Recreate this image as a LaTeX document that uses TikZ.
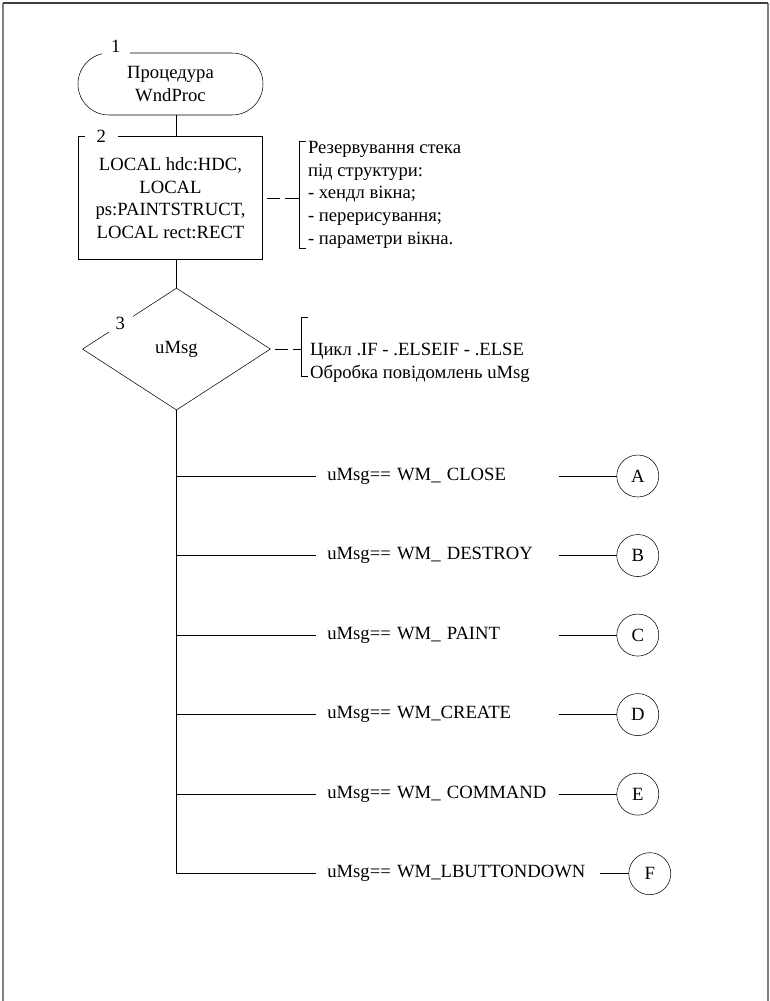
\documentclass[tikz,border=0pt]{standalone}
\usepackage{fontspec}
\setmainfont{Liberation Serif}
\usetikzlibrary{positioning,shapes.geometric}

\begin{document}
\begin{tikzpicture}[
    x=0.75pt, y=-0.75pt,
    font=\fontsize{14pt}{17pt}\selectfont,
    term/.style={draw, rounded corners=23.25pt, minimum width=138.75pt,
                 minimum height=46.5pt, align=center},
    proc/.style={draw, minimum width=138pt, minimum height=92.25pt, align=center},
    cond/.style={draw, diamond, minimum width=141pt, minimum height=91.5pt, inner sep=0pt},
    note/.style={align=left, inner xsep=6pt, inner ysep=0pt},
    num/.style={fill=white, inner xsep=7pt, inner ysep=1pt},
    msg/.style={text width=165pt, inner xsep=8.25pt, inner ysep=2pt,
                minimum height=20pt, align=left},
    msgwide/.style={msg, text width=195.75pt},
    conn/.style={draw, circle, minimum size=31.5pt, inner sep=0pt},
    line/.style={line width=0.75pt},
    dashline/.style={line width=0.75pt, dash pattern=on 10pt off 4pt, dash phase=11pt},
    pageframe/.style={draw=gray, line width=1.5pt}
]
\useasboundingbox[fill=white] (0,0) rectangle (770,1001);
\draw[pageframe] (3,1001) -- (3,3);
\draw[pageframe] (768,3) -- (768,1001);
\draw[pageframe, draw=black!75] (3,3) -- (768,3);

\node[term] (wndproc) at (170.5,84) {Процедура\\WndProc};
\node[proc, below=15.75pt of wndproc] (locals)
     {LOCAL hdc:HDC,\\LOCAL\\ps:PAINTSTRUCT,\\LOCAL rect:RECT};
\node[cond, below=21pt of locals, xshift=4.5pt] (umsg) {uMsg};

\node[num] (n1) at ([xshift=28.5pt,yshift=4.5pt]wndproc.north west) {1};
\node[num, inner xsep=9pt] (n2) at ([xshift=17.25pt]locals.north west) {2};
\node[num, minimum width=19.5pt, minimum height=12.75pt, inner sep=0pt] (n3)
     at ([xshift=28.5pt,yshift=19.5pt]umsg.west) {3};

\node[note, right=27.75pt of locals, yshift=2.5pt] (stacknote)
     {Резервування стека\\під структури:\\- хендл вікна;\\- перерисування;\\- параметри вікна.};
\node[note, right=23.25pt of umsg, yshift=-10.5pt] (loopnote)
     {Цикл .IF - .ELSEIF - .ELSE\\Обробка повідомлень uMsg};

\node[msg, anchor=west]           (caseA) at (316,476) {uMsg== WM\_ CLOSE};
\node[msg, below=39.25pt of caseA] (caseB) {uMsg== WM\_ DESTROY};
\node[msg, below=39.25pt of caseB] (caseC) {uMsg== WM\_ PAINT};
\node[msg, below=39.25pt of caseC] (caseD) {uMsg== WM\_CREATE};
\node[msg, below=39.25pt of caseD] (caseE) {uMsg== WM\_ COMMAND};
\node[msgwide, below=39.25pt of caseE.south west, anchor=north west] (caseF)
     {uMsg== WM\_LBUTTONDOWN};

\node[conn, right=43.5pt of caseA]  (conA) {A};
\node[conn, right=43.5pt of caseB]  (conB) {B};
\node[conn, right=43.5pt of caseC]  (conC) {C};
\node[conn, right=43.5pt of caseD]  (conD) {D};
\node[conn, right=43.5pt of caseE]  (conE) {E};
\node[conn, right=21.75pt of caseF] (conF) {F};

\draw[line] (wndproc.south -| umsg.north) -- (locals.north -| umsg.north);
\draw[line] (locals.south -| umsg.north) -- (umsg.north);
\draw[dashline] (locals.east) -- (locals.east -| stacknote.west);
\draw[line] ([xshift=4.5pt]stacknote.north west) -- (stacknote.north west)
            -- (stacknote.south west) -- ++(4.5pt,0);
\draw[dashline] (umsg.east) -- (umsg.east -| loopnote.west);
\draw[line] ([xshift=4.5pt,yshift=19pt]loopnote.north west) -- ([yshift=19pt]loopnote.north west)
            -- ([yshift=5pt]loopnote.south west) -- ++(4.5pt,0);

\draw[line] (umsg.south) -- (umsg.south |- caseF.west);
\draw[line] (umsg.south |- caseA.west) -- (caseA.west);
\draw[line] (umsg.south |- caseB.west) -- (caseB.west);
\draw[line] (umsg.south |- caseC.west) -- (caseC.west);
\draw[line] (umsg.south |- caseD.west) -- (caseD.west);
\draw[line] (umsg.south |- caseE.west) -- (caseE.west);
\draw[line] (umsg.south |- caseF.west) -- (caseF.west);
\draw[line] (caseA.east) -- (conA.west);
\draw[line] (caseB.east) -- (conB.west);
\draw[line] (caseC.east) -- (conC.west);
\draw[line] (caseD.east) -- (conD.west);
\draw[line] (caseE.east) -- (conE.west);
\draw[line] (caseF.east) -- (conF.west);
\end{tikzpicture}
\end{document}
